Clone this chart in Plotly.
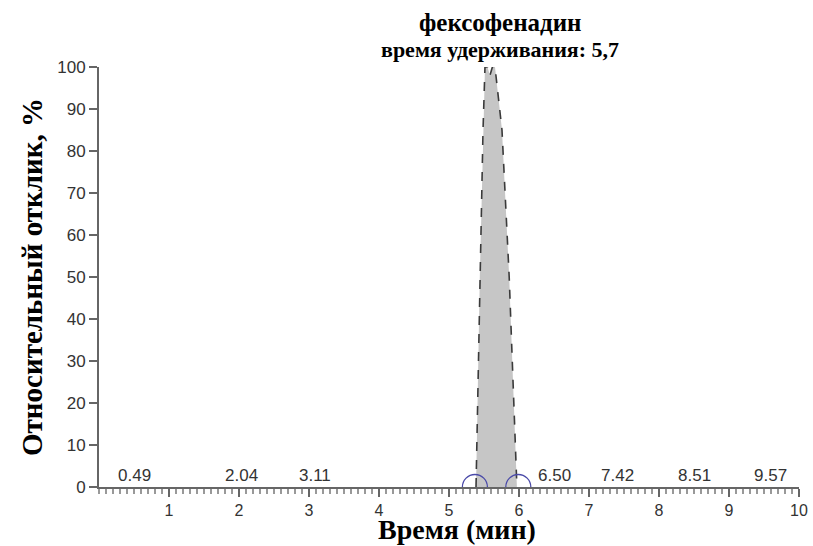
import plotly.graph_objects as go

# Chromatogram trace (time, min ; relative response, %)
time_min = [0.0, 1.0, 2.0, 3.0, 4.0, 5.0, 5.30, 5.386, 5.44, 5.486, 5.514, 5.55, 5.585, 5.62, 5.657, 5.757, 5.86, 5.97, 6.05, 7.0, 8.0, 9.0, 10.0]
response = [0, 0, 0, 0, 0, 0, 0, 0, 50, 85, 100, 100, 98, 100, 100, 85, 50, 0, 0, 0, 0, 0, 0]
peak_start, peak_end = 7, 18  # indices bounding the main peak outline

# Labelled retention times of small peaks
rt_labels = ["0.49", "2.04", "3.11", "6.50", "7.42", "8.51", "9.57"]
rt_values = [0.51, 2.03, 3.09, 6.51, 7.40, 8.50, 9.59]

# Integration markers at the peak base
base_x = [5.37, 5.99]
base_y = [0, 0]

x_ticks = [1, 2, 3, 4, 5, 6, 7, 8, 9, 10]
y_ticks = [0, 10, 20, 30, 40, 50, 60, 70, 80, 90, 100]

serif = "Liberation Serif"
sans = "Liberation Sans"
axis_col = "#666666"

fig = go.Figure()
fig.add_trace(go.Scatter(
    x=time_min, y=response, mode="lines", fill="tozeroy",
    fillcolor="#c6c6c6", line=dict(width=0),
    hoverinfo="skip", showlegend=False))
fig.add_trace(go.Scatter(
    x=time_min[peak_start:peak_end], y=response[peak_start:peak_end], mode="lines",
    line=dict(color="#3a3a3a", width=1.6, dash="dash"),
    hoverinfo="skip", showlegend=False))
fig.add_trace(go.Scatter(
    x=base_x, y=base_y, mode="markers",
    marker=dict(symbol="circle-open", size=25, color="#4a4aa8", line=dict(width=1.3)),
    cliponaxis=True, showlegend=False, hoverinfo="skip"))

for t, v in zip(rt_labels, rt_values):
    fig.add_annotation(x=v, y=0, text=t, showarrow=False, yanchor="bottom", yshift=0,
                       font=dict(family=sans, size=17, color="#333333"))

fig.add_annotation(x=5.73, y=1.0, xref="x", yref="paper", yanchor="middle", yshift=45,
                   text="<b>фексофенадин</b>",
                   showarrow=False, font=dict(family=serif, size=25, color="black"))
fig.add_annotation(x=5.73, y=1.0, xref="x", yref="paper", yanchor="middle", yshift=18,
                   text="<b>время удерживания: 5,7</b>",
                   showarrow=False, font=dict(family=serif, size=22, color="black"))
fig.add_annotation(x=0.5, y=0, xref="paper", yref="paper", yanchor="bottom", yshift=-59,
                   xshift=8, text="<b>Время (мин)</b>", borderpad=0,
                   showarrow=False, font=dict(family=serif, size=28, color="black"))

fig.update_layout(
    width=813, height=546,
    margin=dict(l=99, r=14, t=67, b=59),
    plot_bgcolor="white", paper_bgcolor="white",
    xaxis=dict(range=[0, 10], tickmode="array", tickvals=x_ticks, automargin=False,
               layer="above traces",
               showgrid=False, zeroline=False, showline=True, linecolor=axis_col, linewidth=2,
               ticks="outside", ticklen=8, tickwidth=2, tickcolor=axis_col,
               tickfont=dict(family=sans, size=16, color="#333333"),
               minor=dict(tickmode="linear", tick0=0, dtick=0.1, ticks="outside", ticklen=5,
                          tickwidth=1.5, tickcolor="#999999", showgrid=False)),
    yaxis=dict(range=[0, 100], tickmode="array", tickvals=y_ticks, automargin=False,
               layer="above traces",
               showgrid=False, zeroline=False, showline=True, linecolor=axis_col, linewidth=2,
               ticks="outside", ticklen=8, tickwidth=1.5, tickcolor=axis_col,
               tickfont=dict(family=sans, size=17, color="#333333"),
               title=dict(text="<b>Относительный отклик, %</b>", font=dict(family=serif, size=29, color="black"),
                          standoff=6)),
)

fig.write_html("out.html")
